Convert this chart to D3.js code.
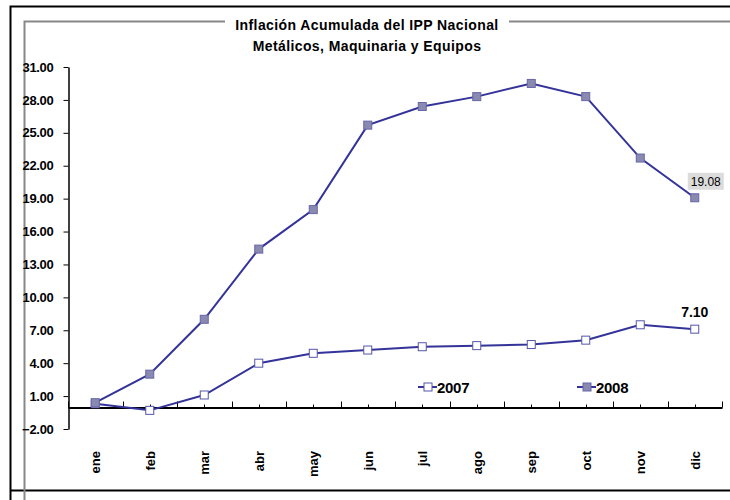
<!DOCTYPE html>
<html>
<head>
<meta charset="utf-8">
<script src="https://cdn.jsdelivr.net/npm/d3@7"></script>
<style>
  body { margin: 0; background: #fff; }
  #chart { width: 730px; height: 500px; }
  text { font-family: "Liberation Sans", Arial, sans-serif; }
</style>
</head>
<body>
<div id="chart"></div>
<script>
var months = ['ene', 'feb', 'mar', 'abr', 'may', 'jun', 'jul', 'ago', 'sep', 'oct', 'nov', 'dic'];
var values2007 = [0.3, -0.3, 1.1, 4.0, 4.9, 5.2, 5.5, 5.6, 5.7, 6.1, 7.5, 7.10];
var values2008 = [0.4, 3.0, 8.0, 14.4, 18.0, 25.7, 27.4, 28.3, 29.5, 28.3, 22.7, 19.08];
var yTicks = [31, 28, 25, 22, 19, 16, 13, 10, 7, 4, 1, -2];
var seriesNames = ['2007', '2008'];
var titleLines = ['Inflación Acumulada del IPP Nacional', 'Metálicos, Maquinaria y Equipos'];

function drawChart(){
  var width = 730, height = 500;
  var lineColor = '#333399';
  var svg = d3.select('#chart').append('svg')
      .attr('width', width)
      .attr('height', height);

  // frames (outer black, inner gray)
  svg.append('path')
    .attr('d', 'M10.5,' + (height + 5) + 'V6.5H' + (width + 5))
    .attr('fill', 'none').attr('stroke', '#000').attr('stroke-width', 2);
  svg.append('path')
    .attr('d', 'M10.5,490.5H' + (width + 5))
    .attr('fill', 'none').attr('stroke', '#000').attr('stroke-width', 2);
  svg.append('path')
    .attr('d', 'M24.5,' + (height + 5) + 'V21.5H' + (width + 5))
    .attr('fill', 'none').attr('stroke', '#888').attr('stroke-width', 2);

  var x = d3.scaleBand().domain(months).range([68, 722]);
  var y = d3.scaleLinear().domain([-2, 31]).range([429, 67]);
  var bw = x.bandwidth();

  // title
  svg.append('rect')
    .attr('x', 225).attr('y', 16).attr('width', 284).attr('height', 18)
    .attr('fill', '#fff');
  svg.selectAll('.title').data(titleLines).enter().append('text')
    .attr('class', 'title')
    .attr('x', 367)
    .attr('y', function(d, i){ return 30 + i * 21; })
    .attr('text-anchor', 'middle')
    .attr('font-size', '14px')
    .attr('font-weight', 'bold')
    .attr('letter-spacing', '0.4px')
    .text(function(d){ return d; });

  // y axis
  var yAxis = svg.append('g')
    .attr('transform', 'translate(68.5,0)')
    .call(d3.axisLeft(y).tickValues(yTicks).tickFormat(d3.format('.2f'))
      .tickSize(5).tickSizeOuter(0).tickPadding(10));
  yAxis.select('.domain').attr('stroke-width', 1.5);
  yAxis.selectAll('text')
    .attr('font-size', '13px').attr('font-weight', 'bold')
    .attr('letter-spacing', '-0.3px').attr('fill', '#000')
    .attr('font-family', '"Liberation Sans", Arial, sans-serif');

  // x axis at zero
  var y0 = Math.round(y(0)) + 0.5;
  var xAxis = svg.append('g')
    .attr('transform', 'translate(0,' + y0 + ')')
    .call(d3.axisBottom(x).tickSize(0).tickSizeOuter(0).tickFormat(''));
  xAxis.select('.domain').attr('stroke-width', 2);
  var majors = months.map(function(m){ return x(m); }).concat([x(months[months.length - 1]) + bw]);
  svg.selectAll('.xmajor').data(majors).enter().append('line')
    .attr('x1', function(d){ return Math.round(d) + 0.5; })
    .attr('x2', function(d){ return Math.round(d) + 0.5; })
    .attr('y1', y0).attr('y2', y0 - 6)
    .attr('stroke', '#000');
  svg.selectAll('.xminor').data(months).enter().append('line')
    .attr('x1', function(d){ return Math.round(x(d) + bw / 2) + 0.5; })
    .attr('x2', function(d){ return Math.round(x(d) + bw / 2) + 0.5; })
    .attr('y1', y0).attr('y2', y0 - 3)
    .attr('stroke', '#000');

  // month labels
  svg.selectAll('.month').data(months).enter().append('text')
    .attr('transform', function(d){ return 'translate(' + (x(d) + bw / 2 + 5) + ',451) rotate(-90)'; })
    .attr('text-anchor', 'end')
    .attr('font-size', '13px')
    .attr('font-weight', 'bold')
    .text(function(d){ return d; });

  var line = d3.line()
    .x(function(d, i){ return x(months[i]) + bw / 2; })
    .y(function(d){ return y(d); });

  var series = [values2007, values2008];
  series.forEach(function(vals, s){
    svg.append('path')
      .attr('d', line(vals))
      .attr('fill', 'none')
      .attr('stroke', lineColor)
      .attr('stroke-width', 2);
    svg.selectAll('.m' + s).data(vals).enter().append('rect')
      .attr('x', function(d, i){ return x(months[i]) + bw / 2 - 4; })
      .attr('y', function(d){ return y(d) - 4; })
      .attr('width', 8).attr('height', 8)
      .attr('fill', s === 0 ? '#fff' : '#8a8ab0')
      .attr('stroke', s === 0 ? '#5555aa' : '#6666aa')
      .attr('stroke-width', 1);
  });

  // data labels
  var last = months.length - 1;
  svg.append('text')
    .attr('x', x(months[last]) + bw / 2)
    .attr('y', y(values2007[last]) - 12)
    .attr('text-anchor', 'middle')
    .attr('font-size', '14px').attr('font-weight', 'bold')
    .text(d3.format('.2f')(values2007[last]));
  var lx = x(months[last]) + bw / 2 + 11, ly = y(values2008[last]) - 16;
  svg.append('rect')
    .attr('x', lx - 18).attr('y', ly - 9).attr('width', 36).attr('height', 17)
    .attr('fill', '#dcdcdc');
  svg.append('text')
    .attr('x', lx).attr('y', ly + 4)
    .attr('text-anchor', 'middle')
    .attr('font-size', '12px')
    .text(d3.format('.2f')(values2008[last]));

  // legend
  var legendX = [418, 577];
  seriesNames.forEach(function(name, s){
    var lg = svg.append('g').attr('transform', 'translate(' + legendX[s] + ',387)');
    lg.append('line').attr('x1', 0).attr('x2', 19).attr('y1', 0).attr('y2', 0)
      .attr('stroke', lineColor).attr('stroke-width', 2);
    lg.append('rect').attr('x', 6).attr('y', -4).attr('width', 8).attr('height', 8)
      .attr('fill', s === 0 ? '#fff' : '#8a8ab0')
      .attr('stroke', s === 0 ? '#5555aa' : '#6666aa');
    lg.append('text').attr('x', 19).attr('y', 6)
      .attr('font-size', '15px').attr('font-weight', 'bold')
      .attr('letter-spacing', '-0.3px')
      .text(name);
  });
}
drawChart();
</script>
</body>
</html>
